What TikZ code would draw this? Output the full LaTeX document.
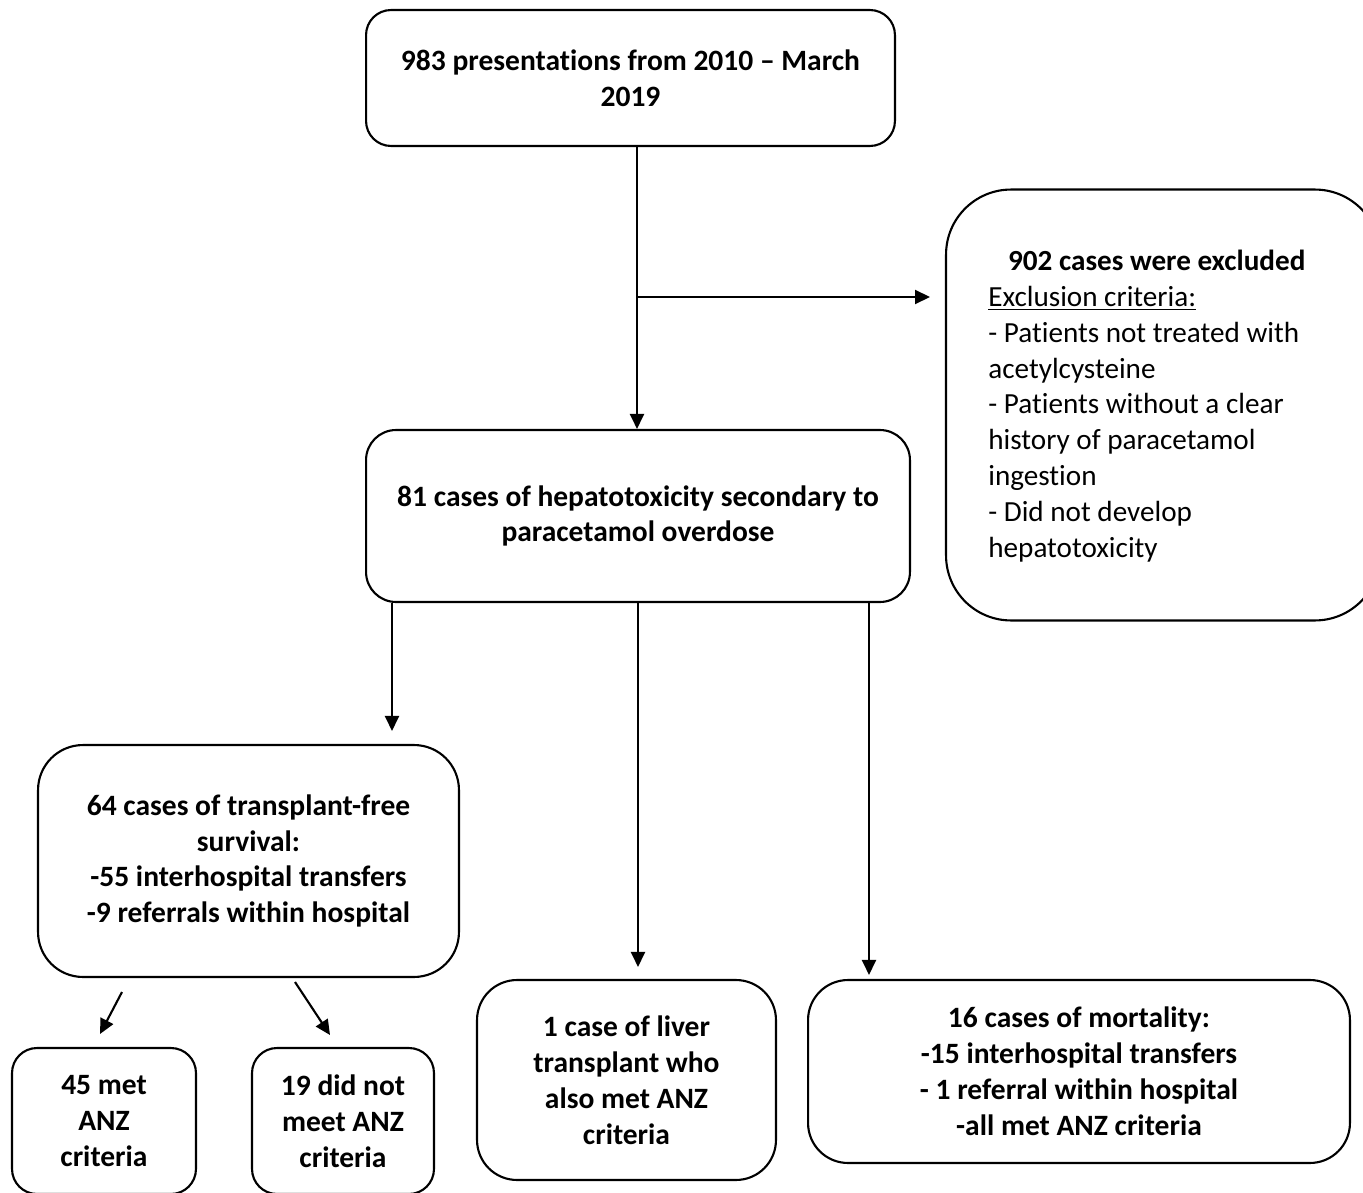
\documentclass[tikz,border=0pt]{standalone}
\usepackage{fontspec}
\setmainfont[Ligatures=NoCommon]{Carlito}
\usetikzlibrary{arrows.meta}

\begin{document}
\begin{tikzpicture}[x=0.02cm, y=-0.02cm,
    box/.style={draw, line width=1.2pt, inner sep=0pt, align=center,
        font=\fontsize{16.8}{20.4}\selectfont\bfseries},
    arr/.style={line width=1.2pt, -{Triangle[length=0.3cm, width=0.28cm]}}]
\useasboundingbox (0,0) rectangle (1363,1193);

% Boxes of the flow chart, top to bottom
\node[box, rounded corners=0.5cm, minimum width=10.58cm, minimum height=2.72cm]
    (pres) at (630.5,78) {983 presentations from 2010 -- March\\2019};
\node[box, rounded corners=1.3cm, minimum width=8.68cm, minimum height=8.62cm] (excl) at (1163,405) {};
\node[anchor=west, align=left, inner sep=0pt,
    font=\fontsize{16.6}{20.4}\selectfont] (exclText) at (988,406)
    {\makebox[6.74cm]{\textbf{902 cases were excluded}}\\
     \underline{Exclusion criteria:}\\
     - Patients not treated with\\
     acetylcysteine\\
     - Patients without a clear\\
     history of paracetamol\\
     ingestion\\
     - Did not develop\\
     hepatotoxicity};
\node[box, rounded corners=0.6cm, minimum width=10.88cm, minimum height=3.44cm]
    (hep) at (638,516) {81 cases of hepatotoxicity secondary to\\paracetamol overdose};
\node[box, rounded corners=0.9cm, minimum width=8.42cm, minimum height=4.64cm]
    (free) at (248.5,861) {64 cases of transplant-free\\survival:\\-55 interhospital transfers\\-9 referrals within hospital};
\node[box, rounded corners=0.5cm, minimum width=3.68cm, minimum height=2.92cm]
    (met) at (104,1121) {45 met\\ANZ\\criteria};
\node[box, rounded corners=0.5cm, minimum width=3.64cm, minimum height=2.92cm]
    (notmet) at (343,1121) {19 did not\\meet ANZ\\criteria};
\node[box, rounded corners=0.8cm, minimum width=5.98cm, minimum height=4cm]
    (liver) at (626.5,1080) {1 case of liver\\transplant who\\also met ANZ\\criteria};
\node[box, rounded corners=0.8cm, minimum width=10.84cm, minimum height=3.66cm]
    (mort) at (1079,1071.5) {16 cases of mortality:\\-15 interhospital transfers\\- 1 referral within hospital\\-all met ANZ criteria};

% Points where the connectors leave or stop
\coordinate (split) at (637,297);
\coordinate (colA) at (392,0);
\coordinate (colC) at (869,0);
\coordinate (dA) at (122,992);
\coordinate (dAtip) at (100,1034);
\coordinate (dB) at (295,982);
\coordinate (dBtip) at (330,1035);

% Connectors
\draw[arr] (pres.south -| split) -- (hep.north -| split);
\draw[arr, shorten >=0.3cm] (split) -- (excl.west |- split);
\draw[arr, shorten >=0.26cm] (hep.south -| colA) -- (free.north -| colA);
\draw[arr, shorten >=0.24cm] (hep.south) -- (liver.north -| hep.south);
\draw[arr, shorten >=0.08cm] (hep.south -| colC) -- (mort.north -| colC);
\draw[arr] (dA) -- (dAtip);
\draw[arr] (dB) -- (dBtip);
\end{tikzpicture}
\end{document}
